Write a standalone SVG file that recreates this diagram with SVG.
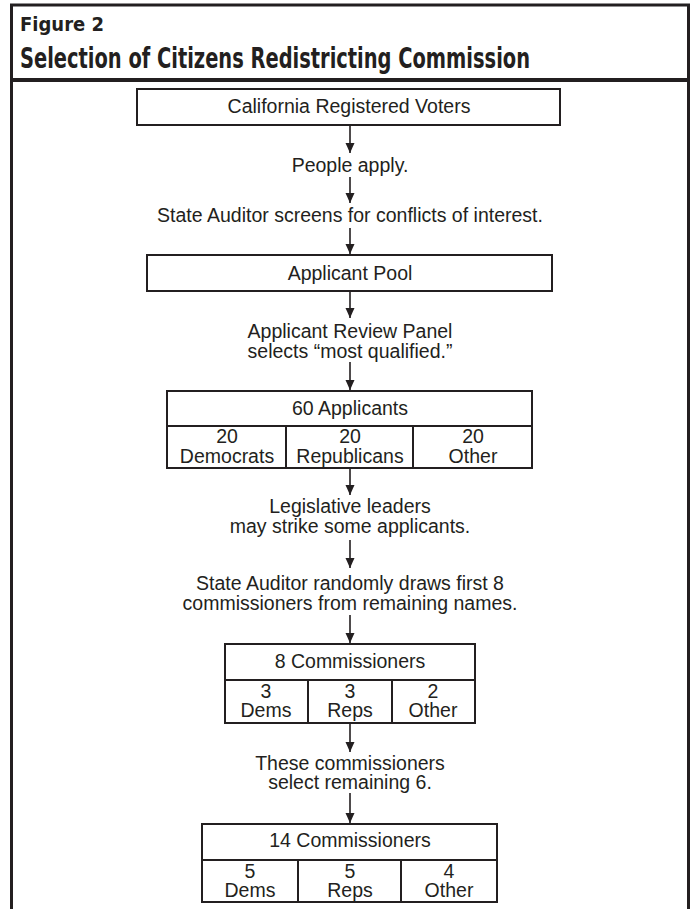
<svg xmlns="http://www.w3.org/2000/svg" width="691" height="909" viewBox="0 0 691 909">
<defs>
<style>
.t{font-family:"Liberation Sans",Arial,sans-serif;font-size:19.5px;fill:#231f20;text-anchor:middle}
.h{font-family:"Liberation Sans Narrow","DejaVu Sans Condensed","Liberation Sans",sans-serif;font-weight:bold;fill:#231f20}
.box{fill:#fff;stroke:#231f20;stroke-width:2}
.div{stroke:#231f20;stroke-width:2;fill:none}
.arr{stroke:#231f20;stroke-width:1.6;fill:none;marker-end:url(#ah)}
</style>
<marker id="ah" markerUnits="userSpaceOnUse" markerWidth="10" markerHeight="11" refX="10" refY="4.5" orient="auto">
<path d="M0,0 L10,4.5 L0,9 Z" fill="#231f20"/>
</marker>
</defs>
<rect width="691" height="909" fill="#fff"/>
<g id="frame">
<path d="M11.5,912 V5 H688.5 V912" fill="none" stroke="#231f20" stroke-width="3"/>
<line x1="11.5" y1="80" x2="688.5" y2="80" stroke="#231f20" stroke-width="4"/>
<text class="h" x="20" y="31" font-size="19" textLength="84" lengthAdjust="spacingAndGlyphs">Figure 2</text>
<text class="h" x="20" y="68" font-size="28" textLength="510" lengthAdjust="spacingAndGlyphs">Selection of Citizens Redistricting Commission</text>
</g>
<g id="connectors">
<line class="arr" x1="350" y1="125" x2="350" y2="153"/>
<line class="arr" x1="350" y1="177" x2="350" y2="203"/>
<line class="arr" x1="350" y1="228" x2="350" y2="254"/>
<line class="arr" x1="350" y1="291" x2="350" y2="318"/>
<line class="arr" x1="350" y1="362" x2="350" y2="390"/>
<line class="arr" x1="350" y1="468" x2="350" y2="495"/>
<line class="arr" x1="350" y1="540" x2="350" y2="568"/>
<line class="arr" x1="350" y1="615" x2="350" y2="643"/>
<line class="arr" x1="350" y1="723" x2="350" y2="752"/>
<line class="arr" x1="350" y1="793" x2="350" y2="823"/>
</g>
<g id="voters">
<rect class="box" x="137" y="89" width="423" height="36"/>
<text class="t" x="349" y="113">California Registered Voters</text>
</g>
<g id="step-apply">
<text class="t" x="350" y="172">People apply.</text>
</g>
<g id="step-screen">
<text class="t" x="350" y="222">State Auditor screens for conflicts of interest.</text>
</g>
<g id="pool">
<rect class="box" x="147" y="255" width="405" height="36"/>
<text class="t" x="350" y="280">Applicant Pool</text>
</g>
<g id="step-panel">
<text class="t" x="350" y="338">Applicant Review Panel<tspan x="350" dy="20">selects “most qualified.”</tspan></text>
</g>
<g id="applicants60">
<rect class="box" x="167" y="391" width="365" height="77"/>
<line class="div" x1="167" y1="426" x2="532" y2="426"/>
<line class="div" x1="286" y1="426" x2="286" y2="468"/>
<line class="div" x1="413" y1="426" x2="413" y2="468"/>
<text class="t" x="350" y="415">60 Applicants</text>
<text class="t" x="227" y="443">20<tspan x="227" dy="20">Democrats</tspan></text>
<text class="t" x="350" y="443">20<tspan x="350" dy="20">Republicans</tspan></text>
<text class="t" x="473" y="443">20<tspan x="473" dy="20">Other</tspan></text>
</g>
<g id="step-strike">
<text class="t" x="350" y="513">Legislative leaders<tspan x="350" dy="20">may strike some applicants.</tspan></text>
</g>
<g id="step-draw">
<text class="t" x="350" y="590">State Auditor randomly draws first 8<tspan x="350" dy="20">commissioners from remaining names.</tspan></text>
</g>
<g id="commissioners8">
<rect class="box" x="225" y="644" width="250" height="79"/>
<line class="div" x1="225" y1="680" x2="475" y2="680"/>
<line class="div" x1="308" y1="680" x2="308" y2="723"/>
<line class="div" x1="392" y1="680" x2="392" y2="723"/>
<text class="t" x="350" y="668">8 Commissioners</text>
<text class="t" x="266" y="698">3<tspan x="266" dy="19">Dems</tspan></text>
<text class="t" x="350" y="698">3<tspan x="350" dy="19">Reps</tspan></text>
<text class="t" x="433" y="698">2<tspan x="433" dy="19">Other</tspan></text>
</g>
<g id="step-select">
<text class="t" x="350" y="770">These commissioners<tspan x="350" dy="19">select remaining 6.</tspan></text>
</g>
<g id="commissioners14">
<rect class="box" x="202" y="824" width="295" height="78"/>
<line class="div" x1="202" y1="860" x2="497" y2="860"/>
<line class="div" x1="298" y1="860" x2="298" y2="902"/>
<line class="div" x1="401" y1="860" x2="401" y2="902"/>
<text class="t" x="350" y="847">14 Commissioners</text>
<text class="t" x="250" y="878">5<tspan x="250" dy="19">Dems</tspan></text>
<text class="t" x="350" y="878">5<tspan x="350" dy="19">Reps</tspan></text>
<text class="t" x="449" y="878">4<tspan x="449" dy="19">Other</tspan></text>
</g>
</svg>
